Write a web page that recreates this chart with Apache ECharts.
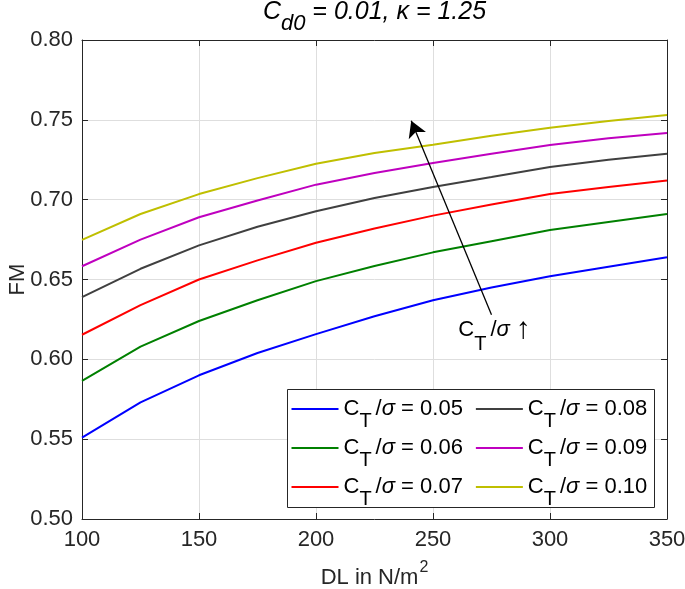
<!DOCTYPE html>
<html><head><meta charset="utf-8">
<script src="https://cdn.jsdelivr.net/npm/echarts@6/dist/echarts.min.js"></script>
<style>html,body{margin:0;padding:0;background:#fff}#c{width:685px;height:589px}</style>
</head><body><div id="c"></div>
<script>
// ---- data ----
const dl = [100, 125, 150, 175, 200, 225, 250, 275, 300, 325, 350];
const fm005 = [0.551, 0.573, 0.590, 0.604, 0.6158, 0.627, 0.637, 0.645, 0.652, 0.658, 0.664];
const fm006 = [0.5865, 0.608, 0.624, 0.637, 0.649, 0.6585, 0.667, 0.674, 0.681, 0.686, 0.691];
const fm007 = [0.6154, 0.634, 0.650, 0.662, 0.673, 0.682, 0.690, 0.697, 0.7035, 0.708, 0.712];
const fm008 = [0.639, 0.6567, 0.6714, 0.683, 0.6927, 0.701, 0.708, 0.7142, 0.7205, 0.725, 0.7288];
const fm009 = [0.6583, 0.675, 0.689, 0.6995, 0.7094, 0.7167, 0.7229, 0.7288, 0.7343, 0.7385, 0.7417];
const fm010 = [0.6748, 0.691, 0.7035, 0.7135, 0.7225, 0.7292, 0.7344, 0.740, 0.745, 0.7493, 0.7531];
const ctValues = ['0.05', '0.06', '0.07', '0.08', '0.09', '0.10'];
const legendOrder = ['0.05', '0.08', '0.06', '0.09', '0.07', '0.10'];
const xTickMin = 100, xTickMax = 350, xTickStep = 50;
const yTickMin = 0.50, yTickMax = 0.80, yTickStep = 0.05;
const arrowFrom = [275, 0.628];
const arrowTo = [240.7, 0.7494];
const noteAt = [260.8, 0.6183];
const titleParts = ['C', 'd0', ' = 0.01, ', 'κ', ' = 1.25'];

// ---- styles ----
const FONT = 'Liberation Sans';
const colors = ['#0000ff', '#008000', '#ff0000', '#404040', '#bf00bf', '#bfbf00'];
const allFm = [fm005, fm006, fm007, fm008, fm009, fm010];
const AX = '#262626';

const chart = echarts.init(document.getElementById('c'), null, {renderer: 'canvas'});

const series = ctValues.map((name, i) => {
  const s = {
    name: name,
    type: 'line',
    data: dl.map((x, j) => [x, allFm[i][j]]),
    showSymbol: false,
    symbol: 'none',
    color: colors[i],
    lineStyle: {width: 2, color: colors[i]},
    emphasis: {disabled: true},
    z: 3
  };
  if (i === 0) {
    s.markLine = {
      silent: true,
      symbol: ['none', 'arrow'],
      symbolSize: [14, 16],
      label: {show: false},
      lineStyle: {color: '#000', width: 1.3, type: 'solid'},
      emphasis: {disabled: true},
      data: [[{coord: arrowFrom}, {coord: arrowTo}]]
    };
  }
  return s;
});

const axisCommon = {
  axisLine: {show: true, onZero: false, lineStyle: {color: AX, width: 1}},
  axisTick: {show: true, inside: true, length: 6, lineStyle: {color: AX, width: 1}},
};

const subStyle = {fontFamily: FONT, fontSize: 20, height: 1, lineHeight: 1, verticalAlign: 'bottom', padding: [0, 4, 0, 0], color: '#000'};

chart.setOption({
  animation: false,
  backgroundColor: '#fff',
  grid: {left: 82, right: 18, top: 40, bottom: 70, containLabel: false, outerBoundsMode: 'none'},
  xAxis: [
    Object.assign({
      type: 'value', min: xTickMin, max: xTickMax, interval: xTickStep, position: 'bottom',
      axisLabel: {show: true, margin: 10, color: AX, fontFamily: FONT, fontSize: 22, lineHeight: 22},
      splitLine: {show: true, lineStyle: {color: '#dedede', width: 1}},
      name: '{a|DL in N/m}{p|2}', nameLocation: 'middle', nameGap: 48, nameMoveOverlap: false,
      nameTextStyle: {color: AX, rich: {
        a: {fontFamily: FONT, fontSize: 22, lineHeight: 22, color: AX},
        p: {fontFamily: FONT, fontSize: 16, height: 1, lineHeight: 1, verticalAlign: 'top', padding: [0, 0, 0, 1], color: AX}
      }}
    }, axisCommon),
    Object.assign({
      type: 'value', min: xTickMin, max: xTickMax, interval: xTickStep, position: 'top',
      axisLabel: {show: false}, splitLine: {show: false}
    }, axisCommon)
  ],
  yAxis: [
    Object.assign({
      type: 'value', min: yTickMin, max: yTickMax, interval: yTickStep, position: 'left',
      axisLabel: {show: true, margin: 9, color: AX, fontFamily: FONT, fontSize: 22,
        formatter: v => v.toFixed(2)},
      splitLine: {show: true, lineStyle: {color: '#dedede', width: 1}},
      name: 'FM', nameLocation: 'middle', nameGap: 53, nameRotate: 90, nameMoveOverlap: false,
      nameTextStyle: {color: AX, fontFamily: FONT, fontSize: 22, lineHeight: 22}
    }, axisCommon),
    Object.assign({
      type: 'value', min: yTickMin, max: yTickMax, interval: yTickStep, position: 'right',
      axisLabel: {show: false}, splitLine: {show: false}
    }, axisCommon)
  ],
  legend: {
    data: legendOrder,
    left: 291.5, top: 398,
    width: 370,
    orient: 'horizontal',
    padding: 0,
    itemGap: 5.5,
    itemWidth: 47, itemHeight: 2,
    icon: 'rect',
    z: 6,
    selectedMode: false,
    formatter: n => '{a|C}{s|T}{a|/}{g|σ}{b| = ' + n + '}',
    textStyle: {color: '#000', rich: {
      a: {fontFamily: FONT, fontSize: 22, lineHeight: 26, color: '#000'},
      b: {fontFamily: FONT, fontSize: 22, lineHeight: 26, padding: [0, 7.5, 0, 0], color: '#000'},
      s: subStyle,
      g: {fontFamily: FONT, fontSize: 22, lineHeight: 26, fontStyle: 'italic', color: '#000'}
    }}
  },
  series: series
});

const plotLeft = chart.convertToPixel({xAxisIndex: 0}, xTickMin);
const plotRight = chart.convertToPixel({xAxisIndex: 0}, xTickMax);
const notePx = chart.convertToPixel({xAxisIndex: 0, yAxisIndex: 0}, noteAt);

chart.setOption({
  graphic: [
    {
      type: 'rect', z: 5, silent: true,
      shape: {x: 287.5, y: 389.5, width: 367, height: 118},
      style: {fill: '#fff', stroke: AX, lineWidth: 1}
    },
    {
      type: 'text', z: 10,
      style: {
        x: (plotLeft + plotRight) / 2, y: 0,
        text: '{i|' + titleParts[0] + '}{s|' + titleParts[1] + '}{i|' + titleParts[2] + '}{i|' + titleParts[3] + '}{i|' + titleParts[4] + '}',
        align: 'center', verticalAlign: 'top',
        rich: {
          i: {fontFamily: FONT, fontSize: 25, lineHeight: 24.4, fontStyle: 'italic', fill: '#000'},
          s: {fontFamily: FONT, fontSize: 22, height: 1, lineHeight: 1, verticalAlign: 'bottom', fontStyle: 'italic', fill: '#000'}
        }
      }
    },
    {
      type: 'text', z: 10,
      style: {
        x: notePx[0], y: notePx[1],
        text: '{a|C}{s|T}{a|/}{g|σ}{a| }{r|↑}',
        align: 'left', verticalAlign: 'middle',
        rich: {
          a: {fontFamily: FONT, fontSize: 22, lineHeight: 29, fill: '#000'},
          s: {fontFamily: FONT, fontSize: 20, height: 1, lineHeight: 1, verticalAlign: 'bottom', padding: [0, 4, 0, 0], fill: '#000'},
          g: {fontFamily: FONT, fontSize: 22, lineHeight: 29, fontStyle: 'italic', fill: '#000'},
          r: {fontFamily: FONT, fontSize: 30, lineHeight: 29, fill: '#000'}
        }
      }
    }
  ]
});
</script>
</body></html>
